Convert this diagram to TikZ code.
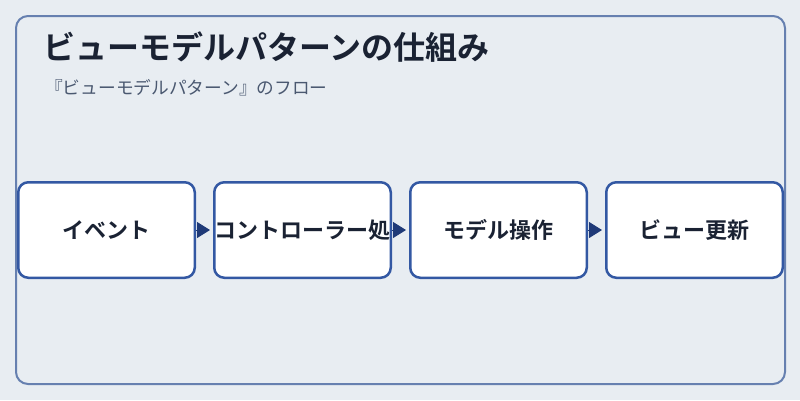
\documentclass[tikz,border=0pt]{standalone}
\usepackage{fontspec}
\setmainfont{Noto Sans CJK JP}[BoldFont={Noto Sans CJK JP Bold}]
\usetikzlibrary{positioning,arrows.meta}
\definecolor{bgcol}{HTML}{E8EDF2}
\definecolor{framecol}{HTML}{6680B0}
\definecolor{boxcol}{HTML}{3358A3}
\definecolor{arrowcol}{HTML}{1F3A78}
\definecolor{titlecol}{HTML}{1A2233}
\definecolor{subcol}{HTML}{4A5870}
\begin{document}
\begin{tikzpicture}[x=1pt,y=-1pt,
    stage/.style={draw=boxcol, line width=2.5pt, fill=white, rounded corners=10pt, minimum width=176.5pt, minimum height=95.5pt, inner sep=0pt, text=titlecol, font=\bfseries\fontsize{22}{26}\selectfont},
    flow/.style={arrowcol, line width=1pt, shorten >=3pt, -{Triangle[length=13pt,width=16pt]}}]
    \fill[bgcol] (0,0) rectangle (800,400);
    \draw[framecol, line width=2pt, rounded corners=12pt] (16,16) rectangle (785,384);
    \node[anchor=base west, inner sep=0pt, text=titlecol, font=\bfseries\fontsize{32}{38}\selectfont] (title) at (43,59) {ビューモデルパターンの仕組み};
    \node[anchor=base west, inner sep=0pt, text=subcol, font=\fontsize{17.7}{21}\selectfont] (subtitle) at (45,94) {『ビューモデルパターン』のフロー};
    \node[stage] (event) at (106.5,230) {イベント};
    \node[stage, right=17pt of event] (ctrl) {コントローラー処};
    \node[stage, right=17pt of ctrl] (model) {モデル操作};
    \node[stage, right=17pt of model] (view) {ビュー更新};
    \draw[flow] (event) -- (ctrl);
    \draw[flow] (ctrl) -- (model);
    \draw[flow] (model) -- (view);
\end{tikzpicture}
\end{document}
